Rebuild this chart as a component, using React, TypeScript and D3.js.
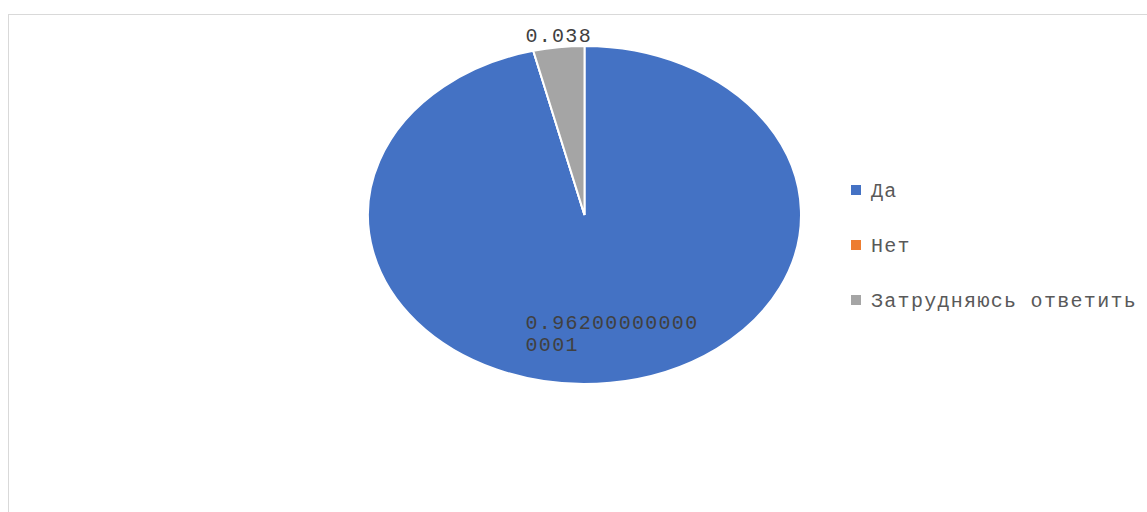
import React, { useEffect, useRef } from "react";
import * as d3 from "d3";

const categories = ["Да", "Нет", "Затрудняюсь ответить"];
const values = [0.962, 0, 0.038];
const valueLabels = ["0.962000000000001", "0", "0.038"];
const colors = ["#4472c4", "#ed7d31", "#a5a5a5"];

const W = 1147;
const H = 512;

const drawChart = (el: SVGSVGElement) => {
  const svg = d3.select(el);
  svg.selectAll("*").remove();

  const font = "'Liberation Mono', 'DejaVu Sans Mono', monospace";

  // chart frame (runs off the right/bottom edges)
  svg
    .append("rect")
    .attr("x", 8.5)
    .attr("y", 14.5)
    .attr("width", W)
    .attr("height", H)
    .attr("fill", "#fff")
    .attr("stroke", "#d9d9d9")
    .attr("stroke-width", 1);

  // pie is drawn as an ellipse: circle of radius ry stretched in x
  const cx = 584.5;
  const cy = 215;
  const rx = 216.5;
  const ry = 169;

  const pie = d3
    .pie<number>()
    .sort(null)
    .value((d) => d);
  const arcs = pie(values);
  const arc = d3.arc<d3.PieArcDatum<number>>().innerRadius(0).outerRadius(ry);

  const g = svg
    .append("g")
    .attr("transform", `translate(${cx},${cy}) scale(${rx / ry},1)`);

  g.selectAll("path")
    .data(arcs)
    .join("path")
    .attr("d", arc)
    .attr("fill", (_, i) => colors[i])
    .attr("stroke", "#fff")
    .attr("stroke-width", 2)
    .attr("vector-effect", "non-scaling-stroke");

  // data labels
  const labelStyle = (t: d3.Selection<SVGTextElement, unknown, null, undefined>) =>
    t
      .attr("font-family", font)
      .attr("font-size", 20)
      .attr("letter-spacing", 1.3)
      .attr("fill", "#404040");

  const mid = (a: d3.PieArcDatum<number>) => (a.startAngle + a.endAngle) / 2;

  // small slice: label outside, above the edge
  const small = arcs[2];
  const sa = mid(small);
  const sx = cx + rx * Math.sin(sa);
  const sy = cy - ry * Math.cos(sa);
  svg
    .append("text")
    .call(labelStyle)
    .attr("x", sx)
    .attr("y", sy - 5)
    .attr("text-anchor", "middle")
    .text(valueLabels[2]);

  // big slice: label inside, wrapped in two lines
  const big = arcs[0];
  const ba = mid(big);
  const bx = cx + rx * 0.7 * Math.sin(ba);
  const by = cy - ry * 0.7 * Math.cos(ba);
  const lines = [valueLabels[0].slice(0, 13), valueLabels[0].slice(13)];
  const bt = svg
    .append("text")
    .call(labelStyle)
    .attr("x", bx - 77)
    .attr("y", by - 3);
  bt.selectAll("tspan")
    .data(lines)
    .join("tspan")
    .attr("x", bx - 77)
    .attr("dy", (_, i) => (i === 0 ? 0 : 22))
    .text((d) => d);

  // legend
  const legendY = d3.scalePoint<string>().domain(categories).range([190, 300]);
  const legend = svg
    .append("g")
    .selectAll("g")
    .data(categories)
    .join("g")
    .attr("transform", (d) => `translate(851,${legendY(d)})`);

  legend
    .append("rect")
    .attr("x", 0)
    .attr("y", -5)
    .attr("width", 10)
    .attr("height", 10)
    .attr("fill", (_, i) => colors[i]);

  legend
    .append("text")
    .attr("x", 20)
    .attr("y", 7)
    .attr("font-family", font)
    .attr("font-size", 20)
    .attr("letter-spacing", 1.3)
    .attr("fill", "#595959")
    .text((d) => d);
};

export default function App() {
  const ref = useRef<SVGSVGElement>(null);

  useEffect(() => {
    if (ref.current) drawChart(ref.current);
  }, []);

  return (
    <svg
      ref={ref}
      width={W}
      height={H}
      style={{ position: "absolute", left: 0, top: 0, background: "#fff" }}
    />
  );
}
